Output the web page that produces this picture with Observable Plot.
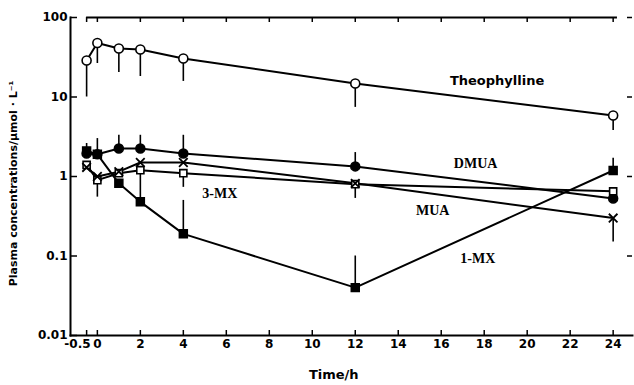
<!DOCTYPE html>
<html>
<head>
<meta charset="utf-8">
<script src="https://cdn.jsdelivr.net/npm/d3@7"></script>
<script src="https://cdn.jsdelivr.net/npm/@observablehq/plot@0.6"></script>
<style>
  html, body { margin: 0; padding: 0; background: #fff; }
  svg { font-family: "DejaVu Sans", sans-serif; font-weight: bold; }
</style>
</head>
<body>
<div id="chart"></div>
<script>
// ---- data ----
const times = [-0.5, 0, 1, 2, 4, 12, 24];
const theophylline = [28.8, 47.7, 40.7, 39.6, 30.5, 14.8, 5.85];
const theophyllineErr = [10, 26.4, 20.3, 18.1, 15.7, 7.4, 3.8];
const dmua = [1.95, 1.9, 2.25, 2.25, 1.95, 1.34, 0.53];
const dmuaErr = [2.6, 3.0, 3.3, 3.3, 3.3, 2.0, null];
const mua = [1.3, 1.0, 1.15, 1.5, 1.5, 0.82, 0.3];
const muaErr = [null, 0.55, null, null, null, null, 0.15];
const mx3 = [1.4, 0.9, 1.1, 1.2, 1.1, 0.8, 0.65];
const mx3Err = [null, null, null, 0.5, 0.73, 0.53, null];
const mx1 = [2.1, 1.9, 0.82, 0.48, 0.19, 0.04, 1.19];
const mx1Err = [null, null, null, null, 0.5, 0.1, 1.7];

const xTicks = [-0.5, 0, 2, 4, 6, 8, 10, 12, 14, 16, 18, 20, 22, 24];
const xTickLabels = ["-0.5", "0", "2", "4", "6", "8", "10", "12", "14", "16", "18", "20", "22", "24"];
const yTicks = [100, 47.7, 10, 1, 0.1, 0.047, 0.01];
const yTickLabels = ["100", "47.7", "10", "1", "0.1", "0.04", "0.01"];
const yTickMarks = [100, 10, 1, 0.1, 0.01];
const yRightMarks = [100, 10, 1, 0.1];

const seriesNames = ["Theophylline", "DMUA", "MUA", "3-MX", "1-MX"];
const seriesValues = [theophylline, dmua, mua, mx3, mx1];
const seriesErrs = [theophyllineErr, dmuaErr, muaErr, mx3Err, mx1Err];

// label anchor points (data units)
const labelNames = ["Theophylline", "DMUA", "MUA", "1-MX", "3-MX"];
const labelT = [18.6, 17.6, 15.6, 17.7, 5.7];
const labelV = [16.1, 1.46, 0.37, 0.093, 0.61];

// ---- build tables ----
const rows = [];
const errs = [];
seriesNames.forEach((s, i) => {
  times.forEach((t, j) => {
    rows.push({s, t, v: seriesValues[i][j]});
    const e = seriesErrs[i][j];
    if (e != null) errs.push({s, t, v: seriesValues[i][j], e});
  });
});
const labels = labelNames.map((name, i) => ({name, t: labelT[i], v: labelV[i]}));
const of = (s) => rows.filter(d => d.s === s);
const xTickRows = xTicks.map((t, i) => ({t, label: xTickLabels[i]}));

const W = 634, H = 385, mL = 70, mR = 2, mT = 17, mB = 50;
const plotW = W - mL - mR, plotH = H - mT - mB;

const chart = Plot.plot({
  width: W,
  height: H,
  marginLeft: mL,
  marginRight: mR,
  marginTop: mT,
  marginBottom: mB,
  style: {fontFamily: "DejaVu Sans, sans-serif", fontWeight: "bold", fontSize: "12px", color: "#000", background: "#fff"},
  x: {domain: [-1.25, 24.9], axis: null},
  y: {type: "log", domain: [0.01, 100], axis: null},
  marks: [
    Plot.frame({anchor: "left", stroke: "#000", strokeWidth: 2}),
    Plot.frame({anchor: "bottom", stroke: "#000", strokeWidth: 2}),
    Plot.ruleY([100], {x1: xTicks[0], x2: xTicks[xTicks.length - 1] + 0.2, stroke: "#000", strokeWidth: 2}),
    // inward ticks
    Plot.tickX(xTicks, {x: d => d, insetTop: plotH - 5, stroke: "#000", strokeWidth: 1.5}),
    Plot.tickX(xTicks, {x: d => d, insetBottom: plotH - 5, stroke: "#000", strokeWidth: 1.5}),
    Plot.tickY(yTickMarks, {y: d => d, insetRight: plotW - 7, stroke: "#000", strokeWidth: 1.5}),
    Plot.tickY(yRightMarks, {y: d => d, insetLeft: plotW - 5, stroke: "#000", strokeWidth: 1.5}),
    // x tick labels (the -0.5 label sits left of its tick, as in the original)
    Plot.text(xTickRows.filter(d => d.t !== -0.5), {x: "t", text: "label", frameAnchor: "bottom", dy: 12, fontSize: 12, fontWeight: "bold"}),
    Plot.text(xTickRows.filter(d => d.t === -0.5), {x: "t", text: "label", frameAnchor: "bottom", dy: 12, dx: 4, textAnchor: "end", fontSize: 12, fontWeight: "bold"}),
    Plot.axisY(yTicks, {tickSize: 0, tickPadding: 3, tickFormat: (d) => yTickLabels[yTicks.indexOf(d)], label: null, fontSize: 12, fontWeight: "bold"}),
    Plot.text(["Time/h"], {x: 11, frameAnchor: "bottom", dy: 43, text: d => d, fontSize: 13, fontWeight: "bold"}),
    Plot.text(["Plasma concentrations/μmol · L⁻¹"], {frameAnchor: "left", dx: -57, dy: 7, rotate: -90, textAnchor: "middle", text: d => d, fontSize: 11, fontWeight: "bold"}),
    // error bars
    Plot.ruleX(errs, {x: "t", y1: "v", y2: "e", stroke: "#000", strokeWidth: 1.6}),
    // lines
    Plot.line(rows, {x: "t", y: "v", z: "s", stroke: "#000", strokeWidth: 2}),
    // markers
    Plot.dot(of("Theophylline"), {x: "t", y: "v", symbol: "circle", r: 4.5, fill: "#fff", stroke: "#000", strokeWidth: 1.6}),
    Plot.dot(of("DMUA"), {x: "t", y: "v", symbol: "circle", r: 4.5, fill: "#000", stroke: "#000"}),
    Plot.dot(of("1-MX"), {x: "t", y: "v", symbol: "square", r: 4.5, fill: "#000", stroke: "#000"}),
    Plot.dot(of("3-MX"), {x: "t", y: "v", symbol: "square", r: 4, fill: "#fff", stroke: "#000", strokeWidth: 1.6}),
    Plot.dot(of("MUA"), {x: "t", y: "v", symbol: "times", r: 4, stroke: "#000", strokeWidth: 1.8}),
    // series labels
    Plot.text(labels.filter(d => d.name === "Theophylline"), {x: "t", y: "v", text: "name", fontSize: 13, fontWeight: "bold", fontFamily: "DejaVu Sans, sans-serif"}),
    Plot.text(labels.filter(d => d.name !== "Theophylline"), {x: "t", y: "v", text: "name", fontSize: 14, fontWeight: "bold", fontFamily: "Liberation Serif, serif"})
  ]
});
document.getElementById("chart").appendChild(chart);
</script>
</body>
</html>
